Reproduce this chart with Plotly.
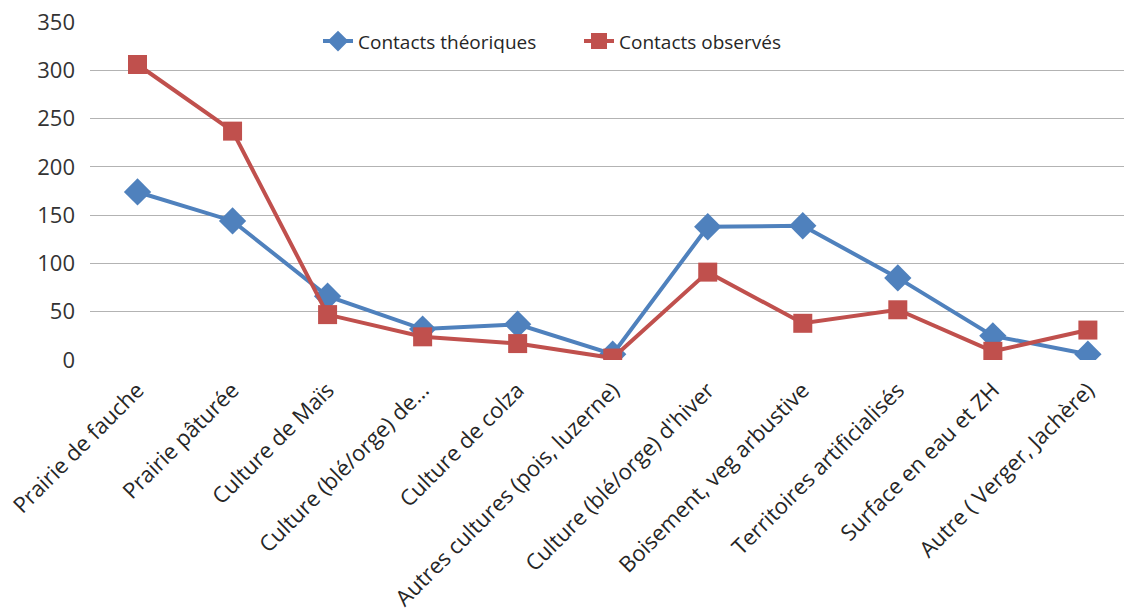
import plotly.graph_objects as go

categories = [
    "Prairie de fauche",
    "Prairie pâturée",
    "Culture de Maïs",
    "Culture (blé/orge) de...",
    "Culture de colza",
    "Autres cultures (pois, luzerne)",
    "Culture (blé/orge) d'hiver",
    "Boisement, veg arbustive",
    "Territoires artificialisés",
    "Surface en eau et ZH",
    "Autre ( Verger, Jachère)",
]
theoriques = [174, 144, 66, 32, 37, 6, 138, 139, 85, 25, 6]
observes = [306, 237, 47, 24, 17, 2, 91, 38, 52, 9, 31]
y_ticks = [0, 50, 100, 150, 200, 250, 300, 350]

font_family = "Open Sans, Noto Sans, Liberation Sans, sans-serif"

fig = go.Figure()
fig.add_trace(go.Scatter(
    x=list(range(len(categories))), y=theoriques, name="Contacts théoriques",
    mode="lines+markers",
    line=dict(color="#4F81BD", width=4),
    marker=dict(symbol="diamond", size=21, color="#4F81BD"),
))
fig.add_trace(go.Scatter(
    x=list(range(len(categories))), y=observes, name="Contacts observés",
    mode="lines+markers",
    line=dict(color="#C0504D", width=4),
    marker=dict(symbol="square", size=19, color="#C0504D"),
))

fig.update_layout(
    width=1124, height=608,
    margin=dict(l=90, r=0, t=22, b=248),
    plot_bgcolor="white", paper_bgcolor="white",
    font=dict(family=font_family, color="#404040", size=19),
    showlegend=True,
    legend=dict(orientation="h", x=(318 - 90) / 1034, xanchor="left", y=0.943, yanchor="middle",
                font=dict(size=19, color="#262626"), bgcolor="rgba(0,0,0,0)",
                entrywidth=216, entrywidthmode="pixels", tracegroupgap=0),
    xaxis=dict(
        range=[-0.5, 10.38], automargin=False,
        tickmode="array", tickvals=list(range(len(categories))), ticktext=categories,
        tickangle=-45, showgrid=False, zeroline=False, showline=False,
        tickfont=dict(size=22, color="#262626"), ticks="", ticklabelstandoff=12,
    ),
    yaxis=dict(
        range=[0, 350], tickvals=y_ticks, showgrid=True, gridcolor="#B3B3B3", gridwidth=1.3,
        zeroline=False, showline=False, ticks="", automargin=False,
        ticklabelstandoff=14,
        tickfont=dict(size=22, color="#333333"),
    ),
)

fig.write_html(
    "out.html",
    config={"displayModeBar": False},
    post_script="document.body.style.margin='0px';document.body.style.overflow='hidden';",
)
